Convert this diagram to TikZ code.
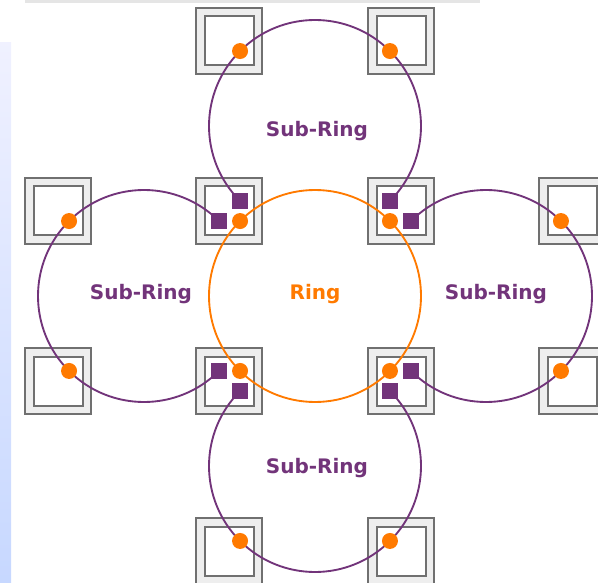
\documentclass[tikz,border=0pt]{standalone}
\usepackage{fontspec}
\setsansfont{DejaVu Sans}
\usetikzlibrary{calc}
\definecolor{subpurple}{HTML}{72347A}
\definecolor{ringorange}{HTML}{FF7A00}
\definecolor{swgray}{HTML}{707070}
\definecolor{swfill}{HTML}{EEEEEE}
\tikzset{
  switch/.style={draw=swgray, fill=swfill, line width=1.5pt, minimum size=49.5pt, inner sep=0pt},
  swinner/.style={draw=swgray, fill=white, line width=1.5pt, minimum size=36.75pt, inner sep=0pt},
  port/.style={circle, fill=ringorange, minimum size=12pt, inner sep=0pt},
  block/.style={fill=subpurple, minimum size=12pt, inner sep=0pt},
  subring/.style={draw=subpurple, line width=1.4pt},
  mainring/.style={draw=ringorange, line width=1.4pt},
  ringlabel/.style={font=\sffamily\bfseries\fontsize{15}{18}\selectfont, anchor=base}
}
\begin{document}
\begin{tikzpicture}[x=0.75pt,y=0.75pt]
    \useasboundingbox (0,0) rectangle (598,582);
    \clip (0,0) rectangle (598,582);
    \shade[top color=cyan!8!blue!6, bottom color=cyan!30!blue!22] (0,0) rectangle (11,539);
    \fill[black!10] (25,579) rectangle (480,582);

    \coordinate (ring) at (315,286);
    \coordinate (tsub) at (315,456);
    \coordinate (bsub) at (315,116);
    \coordinate (lsub) at (144,286);
    \coordinate (rsub) at (486,286);

    \foreach \n/\x/\y in {t1/229/541, t2/401/541, l1/58/371, m1/229/371, m2/401/371, r1/572/371,
                          l2/58/201, m3/229/201, m4/401/201, r2/572/201, b1/229/31, b2/401/31}
    {
        \node[switch] (\n) at (\x,\y) {};
        \node[swinner] (\n-in) at (\n) {};
    }

    \draw[mainring] (ring) circle (106);
    \foreach \c/\s/\e in {tsub/-45/225, lsub/45/315, rsub/-135/135, bsub/135/405}
        \draw[subring] ($(\c)+(\s:106)$) arc[start angle=\s, end angle=\e, radius=106];

    \foreach \a in {45, 135, 225, 315}
        \node[port] (ring-\a) at ($(ring)+(\a:106)$) {};
    \foreach \c/\a in {tsub/45, tsub/135, lsub/135, lsub/225, rsub/45, rsub/315, bsub/225, bsub/315}
        \node[port] (\c-\a) at ($(\c)+(\a:106)$) {};
    \foreach \c/\a in {tsub/225, tsub/315, lsub/45, lsub/315, rsub/135, rsub/225, bsub/45, bsub/135}
        \node[block] (\c-\a) at ($(\c)+(\a:106)$) {};

    \node[ringlabel, text=subpurple] (tsub-lbl) at (317,445) {Sub-Ring};
    \node[ringlabel, text=subpurple] (lsub-lbl) at (141,282) {Sub-Ring};
    \node[ringlabel, text=subpurple] (rsub-lbl) at (496,283) {Sub-Ring};
    \node[ringlabel, text=subpurple] (bsub-lbl) at (317,109) {Sub-Ring};
    \node[ringlabel, text=ringorange] (ring-lbl) at (315,282) {Ring};
\end{tikzpicture}
\end{document}
